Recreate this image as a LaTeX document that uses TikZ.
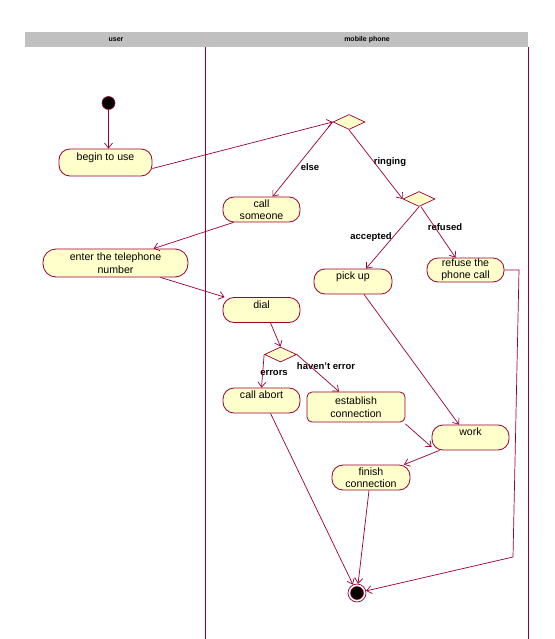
\documentclass[tikz,border=0pt]{standalone}
\usepackage{fontspec}
\setmainfont{Liberation Sans}
\usetikzlibrary{arrows.meta,shapes.geometric}
\definecolor{ln}{HTML}{990033}
\definecolor{fl}{HTML}{FFFFCC}
\definecolor{hd}{HTML}{C0C0C0}
\begin{document}
\begin{tikzpicture}[x=1pt,y=-1pt,
  act/.style={draw=ln,fill=fl,line width=0.8pt,rounded corners=11pt,inner sep=0pt,
    font=\fontsize{10.6}{12.5}\selectfont,align=center},
  oneline/.style={text height=7.5pt,text depth=11.5pt},
  dec/.style={diamond,draw=ln,fill=fl,line width=0.7pt,inner sep=0pt,minimum width=32pt,minimum height=15pt},
  arr/.style={draw=ln,line width=0.7pt,-{Straight Barb[length=5pt,width=8pt]}},
  lbl/.style={font=\fontsize{9.5}{11}\selectfont\bfseries,inner sep=0pt},
  hdr/.style={font=\fontsize{7}{8}\selectfont\bfseries,inner sep=0pt}]
\useasboundingbox (0,0) rectangle (554,639);
\fill[white] (0,0) rectangle (554,639);
% header and lanes
\fill[hd] (25,32) rectangle (528,47);
\node[hdr] (huser) at (116,40) {user};
\node[hdr] (hmob) at (367,40) {mobile phone};
\draw[ln,line width=0.9pt] (205,47) -- (205,639);
\draw[ln,line width=0.9pt] (528,47) -- (528,639);
% nodes
\node[circle,fill=black,draw=ln,line width=0.6pt,minimum size=13pt,inner sep=0pt] (init) at (108.5,103) {};
\node[act,oneline,minimum width=93pt,minimum height=27pt] (begin) at (105.5,162.5) {begin to use};
\node[dec] (d1) at (349,122) {};
\node[act,minimum width=77pt,minimum height=25pt] (call) at (261.5,209.5) {call\\someone};
\node[act,minimum width=145pt,minimum height=28pt,rounded corners=13pt] (enter) at (115.5,263) {enter the telephone\\number};
\node[act,oneline,minimum width=77pt,minimum height=25pt] (dial) at (261.5,310) {dial};
\node[dec] (d3) at (280.5,354.5) {};
\node[act,oneline,minimum width=77pt,minimum height=25pt] (abort) at (261.5,400.5) {call abort};
\node[act,minimum width=98pt,minimum height=30pt,rounded corners=5pt] (est) at (356,407) {establish\\connection};
\node[dec] (d2) at (419,199) {};
\node[act,oneline,minimum width=78pt,minimum height=25pt] (pick) at (353,281.5) {pick up};
\node[act,minimum width=77pt,minimum height=24pt] (refuse) at (465.5,270) {refuse the\\phone call};
\node[act,oneline,minimum width=77pt,minimum height=25pt] (work) at (470.5,437.5) {work};
\node[act,minimum width=78pt,minimum height=25pt] (finish) at (371,477.5) {finish\\connection};
\node[circle,draw=ln,line width=0.7pt,minimum size=18pt,inner sep=0pt] (final) at (357,593) {};
\fill[black,draw=ln,line width=0.5pt] (final.center) circle (6.5pt);
% labels
\node[lbl] (lelse) at (310,167) {else};
\node[lbl] (lring) at (390,162) {ringing};
\node[lbl] (lacc) at (371,237) {accepted};
\node[lbl] (lref) at (445,227) {refused};
\node[lbl] (lerr) at (274,373) {errors};
\node[lbl] (lhav) at (326,366) {haven't error};
% connectors
\draw[arr] (init) -- (init |- begin.north);
\draw[arr] ([yshift=-6pt]begin.east) -- (d1.west);
\draw[arr] (d1.west) -- ([xshift=11pt]call.north);
\draw[arr] (d1.south) -- (d2.west);
\draw[arr] ([xshift=-28pt]call.south) -- ([xshift=38pt]enter.north);
\draw[arr] ([xshift=45pt]enter.south) -- ([xshift=-37pt]dial.north);
\draw[arr] ([xshift=9pt]dial.south) -- (d3.north);
\draw[arr] (d3.west) -- (abort.north);
\draw[arr] (d3.east) -- ([xshift=-17pt]est.north);
\draw[arr] (d2.south) -- ([xshift=13pt]pick.north);
\draw[arr] ([xshift=2pt]d2.south) -- ([xshift=-10pt]refuse.north);
\draw[arr] ([xshift=11pt]pick.south) -- ([xshift=-11.5pt]work.north);
\draw[arr] ([yshift=-1.5pt]est.south east) -- ([yshift=-9.5pt]work.west);
\draw[arr] ([xshift=-31pt]work.south) -- ([xshift=33pt]finish.north);
\draw[arr] ([xshift=9pt]abort.south) -- (final);
\draw[arr] ([xshift=-2pt]finish.south) -- (final);
\coordinate (r1) at (519,270);
\coordinate (r2) at (513,557);
\draw[arr] (refuse.east) -- (r1) -- (r2) -- (final);
\end{tikzpicture}
\end{document}
